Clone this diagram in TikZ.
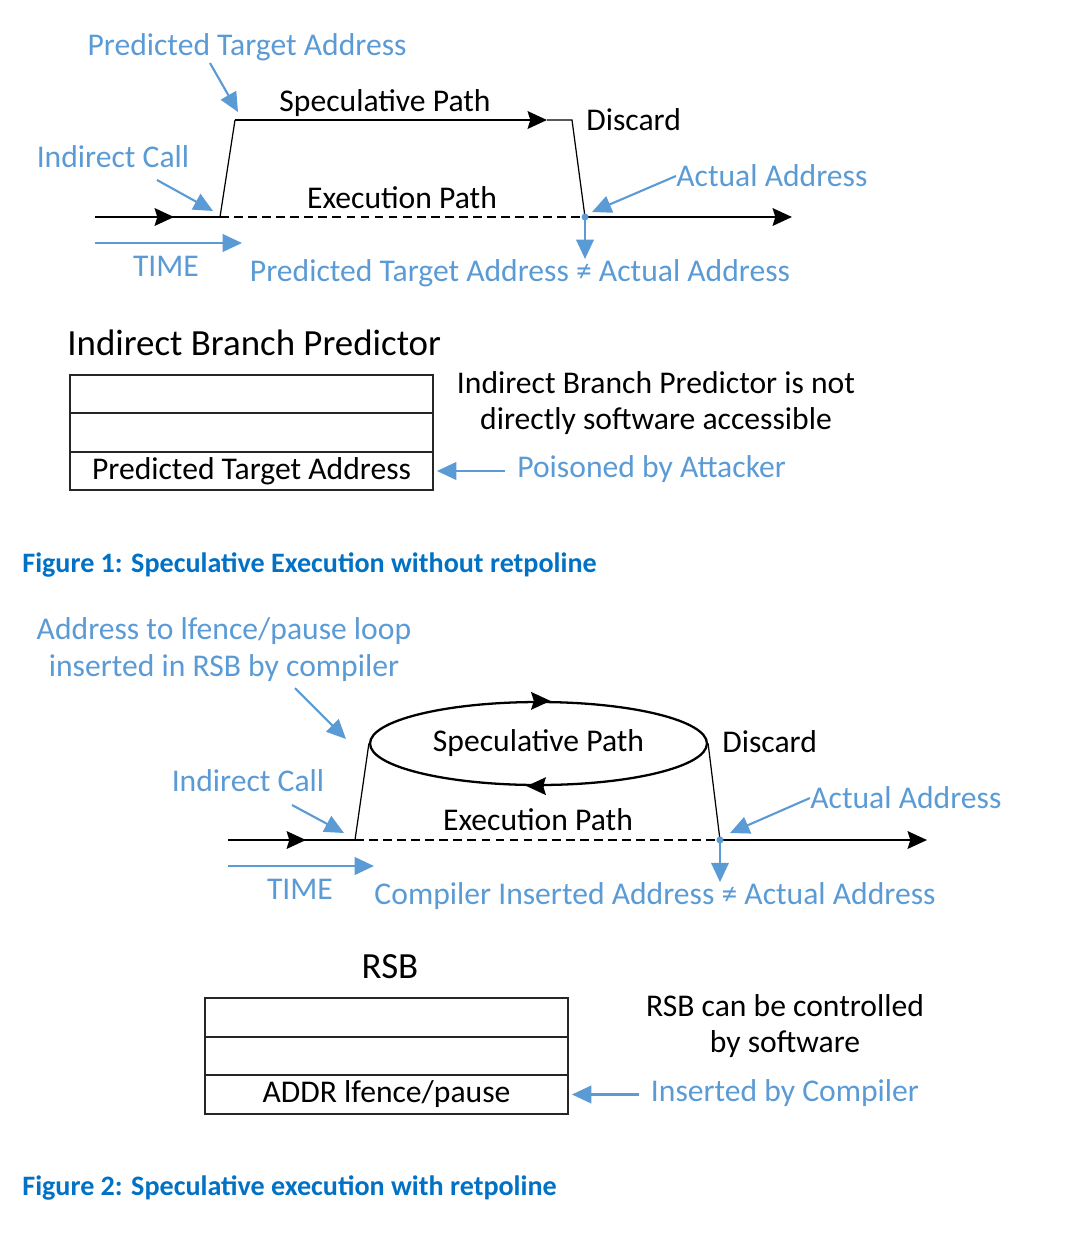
\documentclass[tikz,border=0pt]{standalone}
\usepackage{fontspec}
\setmainfont{Carlito}
\usetikzlibrary{arrows.meta,positioning,shapes.geometric}
\definecolor{noteblue}{HTML}{5B9BD5}
\definecolor{capblue}{HTML}{0071C5}
\tikzset{
  lbl/.style={inner sep=0pt, font=\fontsize{18}{21}\selectfont},
  note/.style={lbl, text=noteblue},
  head/.style={inner sep=0pt, font=\fontsize{21}{24}\selectfont},
  caption/.style={inner sep=0pt, anchor=west, text=capblue, font=\fontsize{16}{19}\selectfont\bfseries},
  mainline/.style={line width=1.3pt},
  slant/.style={line width=0.7pt},
  dashline/.style={line width=1.1pt, dash pattern=on 5pt off 3pt},
  tip/.style={-{Stealth[length=11pt,width=10pt,inset=1.5pt]}},
  notearrow/.style={draw=noteblue, line width=1.2pt, -{Triangle[length=11pt,width=10pt]}},
  cell/.style={rectangle, draw=black!85, line width=0.9pt, fill=white, outer sep=0pt,
    minimum width=7.26cm, minimum height=0.77cm, inner sep=0pt, font=\fontsize{18}{21}\selectfont}
}
\begin{document}
\begin{tikzpicture}[x=0.02cm, y=-0.02cm]
  \useasboundingbox (0,0) rectangle (1065,1259);

  % Figure 1
  \coordinate (start1) at (95,217);
  \coordinate (mid1) at (174,217);
  \coordinate (call1) at (220,217);
  \coordinate (top1) at (235,120);
  \coordinate (specend1) at (547,120);
  \coordinate (turn1) at (572,120);
  \coordinate (join1) at (585,217);
  \coordinate (end1) at (792,217);

  \node(pta1)[note] at (247,47) {Predicted Target Address};
  \node(spec1)[lbl] at (385,103) {Speculative Path};
  \node(disc1)[lbl, anchor=west] at (586,120) {Discard};
  \node(ic1)[note] at (113,157) {Indirect Call};
  \node(aa1)[note, anchor=west] at (676,176) {Actual Address};
  \node(exec1)[lbl] at (402,198) {Execution Path};
  \node(time1)[note] at (166,266) {TIME};
  \node(neq1)[note] at (520,273) {Predicted Target Address ≠ Actual Address};

  \draw[mainline] (start1) -- (call1);
  \draw[mainline, tip] (start1) -- (mid1);
  \draw[slant] (call1) -- (top1);
  \draw[mainline, tip] (top1) -- (specend1);
  \draw[slant] (specend1) -- (turn1) -- (join1);
  \draw[dashline] (call1) -- (join1);
  \draw[mainline, tip] (join1) -- (end1);

  \coordinate (ptatail1) at (210,63);
  \coordinate (ictail1) at (157,180);
  \coordinate (timea1) at (95,243);
  \coordinate (timeb1) at (242,243);
  \draw[notearrow] (ptatail1) -- ([shift={(3,-8)}]top1);
  \draw[notearrow] (ictail1) -- ([shift={(-7,-6)}]call1);
  \draw[notearrow] (aa1.west) -- ([shift={(7,-5)}]join1);
  \draw[notearrow] (timea1) -- (timeb1);
  \fill[noteblue] (join1) circle (3.5);
  \draw[notearrow] (join1) -- (join1 |- neq1.north);

  \node(ibp)[head, anchor=west] at (67,343) {Indirect Branch Predictor};
  \node(ra1)[cell] at (251.5,394) {};
  \node(rb1)[cell, below=0pt of ra1] {};
  \node(rc1)[cell, below=0pt of rb1] {Predicted Target Address};
  \node(acc1)[lbl, align=center, font=\fontsize{18}{20.5}\selectfont] at (656,403)
    {Indirect Branch Predictor is not\\directly software accessible};
  \node(poison)[note, anchor=west] at (517,469) {Poisoned by Attacker};
  \coordinate (ptail1) at ([shift={(-12,0)}]poison.west);
  \draw[notearrow] (ptail1 |- rc1.east) -- ([shift={(4,0)}]rc1.east);

  \node(cap1)[caption] at (22,565) {Figure 1: Speculative Execution without retpoline};

  % Figure 2
  \coordinate (start2) at (228,840);
  \coordinate (mid2) at (306,840);
  \coordinate (call2) at (355,840);
  \coordinate (join2) at (720,840);
  \coordinate (end2) at (927,840);

  \node(addr2)[note, align=center, font=\fontsize{18}{21}\selectfont] at (224,650)
    {Address to lfence/pause loop\\inserted in RSB by compiler};
  \node(loop)[ellipse, draw, line width=1.3pt, inner sep=0pt, minimum width=6.74cm,
    minimum height=1.66cm, font=\fontsize{18}{21}\selectfont] at (538.5,743.5) {Speculative Path};
  \node(disc2)[lbl, anchor=west] at (722,742) {Discard};
  \node(ic2)[note] at (248,781) {Indirect Call};
  \node(aa2)[note, anchor=west] at (810,798) {Actual Address};
  \node(exec2)[lbl] at (538,820) {Execution Path};
  \node(time2)[note] at (300,889) {TIME};
  \node(neq2)[note] at (655,896) {Compiler Inserted Address ≠ Actual Address};

  \draw[mainline, tip] ([shift={(-4,0)}]loop.north) -- ([shift={(12,0)}]loop.north);
  \draw[mainline, tip] ([shift={(4,0)}]loop.south) -- ([shift={(-12,0)}]loop.south);
  \draw[mainline] (start2) -- (call2);
  \draw[mainline, tip] (start2) -- (mid2);
  \draw[slant] (call2) -- (loop.west);
  \draw[slant] (loop.east) -- (join2);
  \draw[dashline] (call2) -- (join2);
  \draw[mainline, tip] (join2) -- (end2);

  \coordinate (addrtail2) at (295,688);
  \coordinate (ictail2) at (292,805);
  \coordinate (timea2) at (228,866);
  \coordinate (timeb2) at (374,866);
  \draw[notearrow] (addrtail2) -- (346,739);
  \draw[notearrow] (ictail2) -- ([shift={(-11,-7)}]call2);
  \draw[notearrow] (aa2.west) -- ([shift={(10,-7)}]join2);
  \draw[notearrow] (timea2) -- (timeb2);
  \fill[noteblue] (join2) circle (3.5);
  \draw[notearrow] (join2) -- (join2 |- neq2.north);

  \node(rsb)[head] at (390,967) {RSB};
  \node(ra2)[cell] at (386.5,1017.5) {};
  \node(rb2)[cell, below=0pt of ra2] {};
  \node(rc2)[cell, below=0pt of rb2] {ADDR lfence/pause};
  \node(ctl2)[lbl, align=center, font=\fontsize{18}{20.5}\selectfont] at (785,1026)
    {RSB can be controlled\\by software};
  \node(ins2)[note] at (785,1093) {Inserted by Compiler};
  \coordinate (ptail2) at ([shift={(-12,0)}]ins2.west);
  \draw[notearrow] (ptail2 |- rc2.east) -- ([shift={(4,0)}]rc2.east);

  \node(cap2)[caption] at (22,1188) {Figure 2: Speculative execution with retpoline};

\end{tikzpicture}
\end{document}
